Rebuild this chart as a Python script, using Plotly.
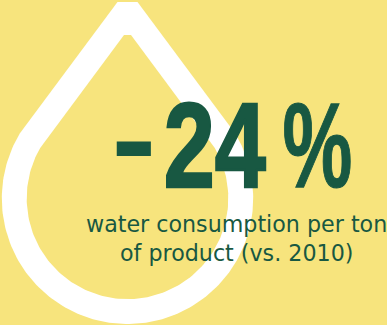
import json
import numpy as np
import plotly.graph_objects as go

BG = "#f7e47d"
INK = "#185842"
WHITE = "#ffffff"
W, H = 387, 325

# Droplet outline: flat tip, straight flanks, round belly
cx = 127.5
cy = 198.3
outer_r = 125.7
inner_r = 100.8
outer_tip = (10, 2)
inner_tip = (3.5, 35)
outer_shoulder = -31
inner_shoulder = -30


def droplet(radius, tip, a0):
    half, top = tip
    t = np.linspace(np.radians(a0), np.radians(180 - a0), 160)
    xs = cx + radius * np.cos(t)
    ys = cy + radius * np.sin(t)
    return (
        np.concatenate([[cx - half, cx + half], xs, [cx - half]]),
        np.concatenate([[top, top], ys, [top]]),
    )


# Headline pieces: text, centre x, centre y, horizontal squeeze, extra weight
big_parts = [("-", 133.5, 137.5, 1.12, 0), ("24", 215, 145, 0.765, 2.4), ("%", 317.5, 145, 0.655, 1.2)]
caption = ["water consumption per ton", "of product (vs. 2010)"]
caption_pos = [(236, 224), (236, 253)]

fig = go.Figure()
for radius, tip, a0, colour in [
    (outer_r, outer_tip, outer_shoulder, WHITE),
    (inner_r, inner_tip, inner_shoulder, BG),
]:
    x, y = droplet(radius, tip, a0)
    fig.add_trace(go.Scatter(x=x, y=y, mode="lines", fill="toself", fillcolor=colour,
                             line=dict(width=0), hoverinfo="skip", showlegend=False))

annotations = []
for text, x, y, _, _ in big_parts:
    annotations.append(dict(x=x, y=y, text=text, showarrow=False, xanchor="center", yanchor="middle",
                            font=dict(family="Liberation Sans", size=120, color=INK, weight="bold")))
for text, (x, y) in zip(caption, caption_pos):
    annotations.append(dict(x=x, y=y, text=text, showarrow=False, xanchor="center", yanchor="middle",
                            font=dict(family="DejaVu Sans", size=22.2, color=INK)))

fig.update_layout(
    width=W, height=H, margin=dict(l=0, r=0, t=0, b=0),
    paper_bgcolor=BG, plot_bgcolor=BG, showlegend=False,
    xaxis=dict(range=[0, W], visible=False, fixedrange=True),
    yaxis=dict(range=[H, 0], visible=False, fixedrange=True),
    annotations=annotations,
)

# Condense the headline glyphs around their own centres and thicken them
settings = json.dumps([[p[3], p[4]] for p in big_parts])
post_script = """
var settings = %s;
settings.forEach(function (cfg, i) {
  var t = document.querySelector('.annotation[data-index="' + i + '"] text');
  if (!t) return;
  var b = t.getBBox();
  var c = b.x + b.width / 2;
  t.setAttribute('transform', 'translate(' + c + ',0) scale(' + cfg[0] + ',1) translate(' + (-c) + ',0)');
  if (cfg[1] > 0) {
    t.style.stroke = '%s';
    t.style.strokeWidth = cfg[1] + 'px';
    t.style.strokeLinejoin = 'miter';
  }
});
""" % (settings, INK)
fig.write_html("out.html", config=dict(displayModeBar=False), post_script=post_script)
